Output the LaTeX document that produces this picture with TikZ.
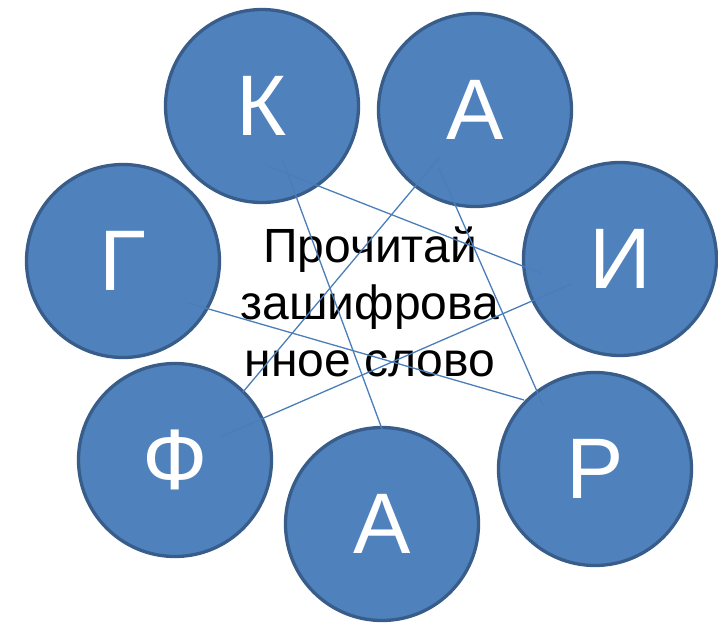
\documentclass[tikz,border=0pt]{standalone}
\usepackage{fontspec}
\setmainfont{Liberation Sans}
\usetikzlibrary{calc}
\definecolor{circfill}{HTML}{4F81BD}
\definecolor{circdraw}{HTML}{385D8A}
\definecolor{linkcol}{HTML}{4A7EBB}
\begin{document}
\begin{tikzpicture}[x=1pt,y=-1pt,
  letter/.style={circle,fill=circfill,draw=circdraw,line width=3.3pt,minimum size=193pt,inner sep=0pt,text=white,font=\fontsize{86}{86}\selectfont},
  link/.style={draw=linkcol,line width=1.3pt}]
\useasboundingbox (0,0) rectangle (718,622);
\node[letter] (K) at (262,106) {К};
\node[letter] (A1) at (475,110) {А};
\node[letter] (G) at (123,261) {Г};
\node[letter] (I) at (620,259) {И};
\node[letter] (F) at (175,460) {Ф};
\node[letter] (A2) at (382,524) {А};
\node[letter] (R) at (595,469) {Р};
\node[align=center,font=\fontsize{48}{57}\selectfont,inner sep=0pt] (T) at (370,302) {Прочитай\\зашифрова\\нное слово};
\draw[link] ($(K.center)+(8,61)$) -- ($(I.center)+(-77,15)$);
\draw[link] ($(K.center)+(21,55)$) -- ($(A2.center)+(0,-95)$);
\draw[link] ($(A1.center)+(-36,48)$) -- ($(F.center)+(68,-68)$);
\draw[link] ($(A1.center)+(-36,58)$) -- ($(R.center)+(-52,-64)$);
\draw[link] ($(G.center)+(65,42)$) -- ($(R.center)+(-71,-69)$);
\draw[link] ($(I.center)+(-49,25)$) -- ($(F.center)+(45,-23)$);
\end{tikzpicture}
\end{document}
